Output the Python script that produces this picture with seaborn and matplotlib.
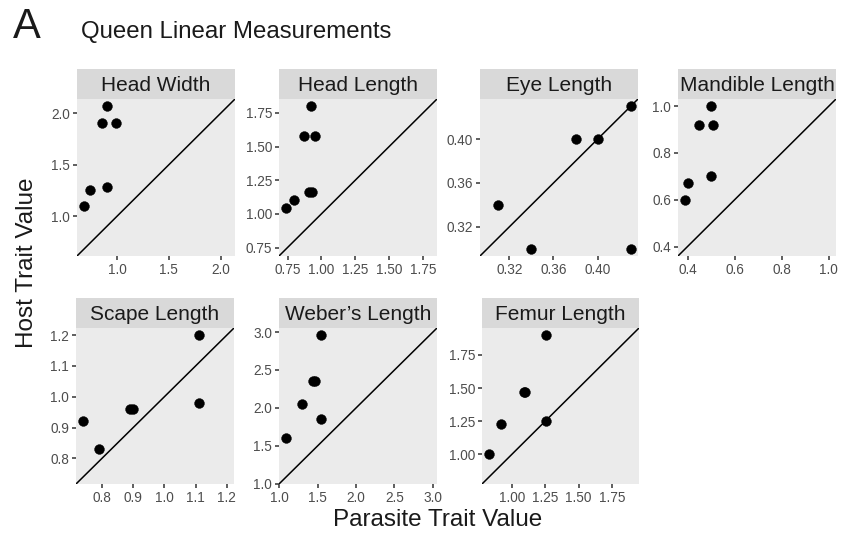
import matplotlib
matplotlib.use("Agg")
import matplotlib.pyplot as plt
import seaborn as sns
import pandas as pd

# ---------------- data ----------------
traits = ["Head Width", "Head Length", "Eye Length", "Mandible Length",
          "Scape Length", "Weber\u2019s Length", "Femur Length"]

head_width_parasite = [0.90, 0.85, 0.99, 0.74, 0.90, 0.68]
head_width_host = [2.07, 1.91, 1.91, 1.25, 1.28, 1.10]

head_length_parasite = [0.92, 0.87, 0.95, 0.91, 0.93, 0.80, 0.74]
head_length_host = [1.80, 1.58, 1.58, 1.16, 1.16, 1.10, 1.04]

eye_length_parasite = [0.31, 0.34, 0.38, 0.40, 0.43, 0.43]
eye_length_host = [0.34, 0.30, 0.40, 0.40, 0.43, 0.30]

mandible_length_parasite = [0.50, 0.45, 0.51, 0.50, 0.40, 0.39]
mandible_length_host = [1.00, 0.92, 0.92, 0.70, 0.67, 0.60]

scape_length_parasite = [1.11, 1.11, 0.89, 0.90, 0.74, 0.79]
scape_length_host = [1.20, 0.98, 0.96, 0.96, 0.92, 0.83]

webers_length_parasite = [1.54, 1.44, 1.47, 1.30, 1.54, 1.09]
webers_length_host = [2.96, 2.36, 2.36, 2.05, 1.86, 1.60]

femur_length_parasite = [1.26, 1.09, 1.10, 0.92, 1.26, 0.83]
femur_length_host = [1.90, 1.47, 1.47, 1.23, 1.25, 1.00]

tick_labels = {
    "Head Width": ["1.0", "1.5", "2.0"],
    "Head Length": ["0.75", "1.00", "1.25", "1.50", "1.75"],
    "Eye Length": ["0.32", "0.36", "0.40"],
    "Mandible Length": ["0.4", "0.6", "0.8", "1.0"],
    "Scape Length": ["0.8", "0.9", "1.0", "1.1", "1.2"],
    "Weber\u2019s Length": ["1.0", "1.5", "2.0", "2.5", "3.0"],
    "Femur Length": ["1.00", "1.25", "1.50", "1.75"],
}

parasite = [head_width_parasite, head_length_parasite, eye_length_parasite,
            mandible_length_parasite, scape_length_parasite,
            webers_length_parasite, femur_length_parasite]
host = [head_width_host, head_length_host, eye_length_host,
        mandible_length_host, scape_length_host, webers_length_host,
        femur_length_host]

rows = []
for t, px, hy in zip(traits, parasite, host):
    for a, b in zip(px, hy):
        rows.append({"trait": t, "parasite": a, "host": b})
df = pd.DataFrame(rows)

# ---------------- style ----------------
sns.set_style("white")
plt.rcParams["font.family"] = ["Liberation Sans", "DejaVu Sans"]

W, H = 842, 547
fig = plt.figure(figsize=(W / 100, H / 100), dpi=100)


def box(x0, y0, x1, y1):
    return [x0 / W, 1 - y1 / H, (x1 - x0) / W, (y1 - y0) / H]


panel_boxes = [
    (77, 99, 235, 256), (279, 99, 437, 256), (480, 99, 638, 256), (678, 99, 836, 256),
    (76, 328, 234, 484), (279, 328, 437, 484), (482, 328, 639, 484),
]
STRIP_H = 30

for t, (x0, y0, x1, y1) in zip(traits, panel_boxes):
    ax = fig.add_axes(box(x0, y0, x1, y1))
    ax.set_facecolor("#EBEBEB")
    sub = df[df["trait"] == t]
    sns.scatterplot(data=sub, x="parasite", y="host", ax=ax, color="black",
                    s=50, edgecolor="black", linewidth=0.3, zorder=3)
    vals = list(sub["parasite"]) + list(sub["host"])
    lo, hi = min(vals), max(vals)
    pad = 0.05 * (hi - lo)
    ax.set_xlim(lo - pad, hi + pad)
    ax.set_ylim(lo - pad, hi + pad)
    ax.axline((lo, lo), slope=1, color="black", lw=1.1, zorder=2)
    labs = tick_labels[t]
    pos = [float(v) for v in labs]
    ax.set_xticks(pos)
    ax.set_xticklabels(labs)
    ax.set_yticks(pos)
    ax.set_yticklabels(labs)
    ax.tick_params(axis="both", length=3, width=1.1, color="#333333",
                   labelcolor="#4D4D4D", labelsize=9.8, pad=2,
                   bottom=True, left=True)
    for sp in ax.spines.values():
        sp.set_visible(False)
    ax.set_xlabel("")
    ax.set_ylabel("")
    ax.grid(False)

    # strip
    sax = fig.add_axes(box(x0, y0 - STRIP_H, x1, y0))
    sax.set_facecolor("#D9D9D9")
    sax.set_xticks([])
    sax.set_yticks([])
    for sp in sax.spines.values():
        sp.set_visible(False)
    sax.text(0.5, 0.45, t, ha="center", va="center", fontsize=15,
             color="#1A1A1A", transform=sax.transAxes)

fig.text(13 / W, 1 - 38 / H, "A", fontsize=30, ha="left", va="baseline",
         color="#1A1A1A")
fig.text(81 / W, 1 - 38 / H, "Queen Linear Measurements", fontsize=17.3,
         ha="left", va="baseline", color="#1A1A1A")
fig.text(27 / W, 1 - 263 / H, "Host Trait Value", fontsize=17.5,
         rotation=90, ha="center", va="center", color="#1A1A1A")
fig.text(438 / W, 1 - 520 / H, "Parasite Trait Value", fontsize=17.5,
         ha="center", va="center", color="#1A1A1A")

fig.savefig("out.png", dpi=100, facecolor="white")
